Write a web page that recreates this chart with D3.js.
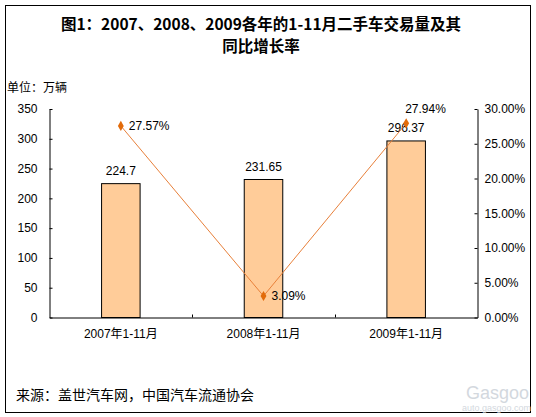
<!DOCTYPE html>
<html>
<head>
<meta charset="utf-8">
<script src="https://cdn.jsdelivr.net/npm/d3@7"></script>
<style>
  body { margin: 0; background: #fff; }
  text { font-family: "Liberation Sans", Arial, "Noto Sans CJK SC", sans-serif; fill: #000; }
  .cjk { font-family: "Noto Sans CJK SC", sans-serif; }
</style>
</head>
<body>
<svg id="chart"></svg>
<script>
// chart data
const categories = ["2007年1-11月", "2008年1-11月", "2009年1-11月"];
const volumes = [224.7, 231.65, 296.37];        // 万辆
const growth = [0.2757, 0.0309, 0.2794];        // 同比增长率
const volumeLabels = ["224.7", "231.65", "296.37"];
const growthLabels = ["27.57%", "3.09%", "27.94%"];
const leftTicks = [0, 50, 100, 150, 200, 250, 300, 350];
const rightTicks = [0, 0.05, 0.10, 0.15, 0.20, 0.25, 0.30];

const width = 536;
const height = 417;
const svg = d3.select("#chart").attr("width", width).attr("height", height);

// outer frame
svg.append("rect")
  .attr("x", 5.5).attr("y", 5.5)
  .attr("width", 525).attr("height", 407)
  .attr("fill", "#fff")
  .attr("stroke", "#000")
  .attr("stroke-width", 1);

// title
const title = svg.append("text")
  .attr("class", "cjk")
  .attr("text-anchor", "middle")
  .attr("font-weight", "bold")
  .attr("font-size", 15.5);
title.append("tspan").attr("x", 261).attr("y", 30).text("图1：2007、2008、2009各年的1-11月二手车交易量及其");
title.append("tspan").attr("x", 261).attr("y", 52).text("同比增长率");

// unit label
svg.append("text")
  .attr("class", "cjk")
  .attr("x", 7).attr("y", 92)
  .attr("font-size", 12)
  .text("单位：万辆");

// scales
const plot = { left: 49.5, right: 477.5, top: 109, bottom: 317.5 };
const x = d3.scaleBand().domain(categories).range([plot.left, plot.right]);
const barWidth = x.bandwidth() * 0.27;
const yLeft = d3.scaleLinear().domain([0, 350]).range([plot.bottom, plot.top]);
const yRight = d3.scaleLinear().domain([0, 0.30]).range([plot.bottom, plot.top]);

// bars
svg.selectAll(".bar")
  .data(volumes)
  .enter()
  .append("rect")
  .attr("class", "bar")
  .attr("x", (d, i) => x(categories[i]) + x.bandwidth() / 2 - barWidth / 2)
  .attr("y", (d) => yLeft(d))
  .attr("width", barWidth)
  .attr("height", (d) => yLeft(0) - yLeft(d))
  .attr("fill", "#FFCC99")
  .attr("stroke", "#000")
  .attr("stroke-width", 1);

// bar value labels
svg.selectAll(".barLabel")
  .data(volumes)
  .enter()
  .append("text")
  .attr("class", "barLabel")
  .attr("x", (d, i) => x(categories[i]) + x.bandwidth() / 2)
  .attr("y", (d) => yLeft(d) - 9)
  .attr("text-anchor", "middle")
  .attr("font-size", 12)
  .text((d, i) => volumeLabels[i]);

// left axis
const axisLeft = d3.axisLeft(yLeft)
  .tickValues(leftTicks)
  .tickSizeInner(-3)
  .tickSizeOuter(0)
  .tickPadding(12);
svg.append("g")
  .attr("transform", `translate(${plot.left},0)`)
  .call(axisLeft)
  .call((g) => g.selectAll("text").attr("font-size", 12).attr("font-family", null));

// right axis
const axisRight = d3.axisRight(yRight)
  .tickValues(rightTicks)
  .tickFormat(d3.format(".2%"))
  .tickSizeInner(-3)
  .tickSizeOuter(0)
  .tickPadding(7);
svg.append("g")
  .attr("transform", `translate(${plot.right},0)`)
  .call(axisRight)
  .call((g) => g.selectAll("text").attr("font-size", 12).attr("font-family", null));

// bottom axis: labels centred, ticks on category boundaries
const axisBottom = d3.axisBottom(x).tickSize(0).tickPadding(12);
svg.append("g")
  .attr("transform", `translate(0,${plot.bottom})`)
  .call(axisBottom)
  .call((g) => g.selectAll("text").attr("font-size", 12).attr("font-family", null));

svg.selectAll(".catTick")
  .data(categories.slice(1))
  .enter()
  .append("line")
  .attr("class", "catTick")
  .attr("x1", (d) => Math.round(x(d)) + 0.5)
  .attr("x2", (d) => Math.round(x(d)) + 0.5)
  .attr("y1", plot.bottom)
  .attr("y2", plot.bottom - 3)
  .attr("stroke", "#000");

// growth line
const line = d3.line()
  .x((d, i) => x(categories[i]) + x.bandwidth() / 2)
  .y((d) => yRight(d));

svg.append("path")
  .datum(growth)
  .attr("d", line)
  .attr("fill", "none")
  .attr("stroke", "#E8803A")
  .attr("stroke-width", 1);

// diamond markers
svg.selectAll(".marker")
  .data(growth)
  .enter()
  .append("path")
  .attr("class", "marker")
  .attr("d", d3.symbol().type(d3.symbolDiamond).size(30))
  .attr("transform", (d, i) => `translate(${x(categories[i]) + x.bandwidth() / 2},${yRight(d)})`)
  .attr("fill", "#E26B0A");

// growth labels (last one sits above the point)
const growthOffsets = [[8, 4], [8, 4], [-1, -10]];
svg.selectAll(".growthLabel")
  .data(growth)
  .enter()
  .append("text")
  .attr("class", "growthLabel")
  .attr("x", (d, i) => x(categories[i]) + x.bandwidth() / 2 + growthOffsets[i][0])
  .attr("y", (d, i) => yRight(d) + growthOffsets[i][1])
  .attr("font-size", 12)
  .text((d, i) => growthLabels[i]);

// source note
svg.append("text")
  .attr("class", "cjk")
  .attr("x", 16).attr("y", 400)
  .attr("font-size", 14)
  .text("来源：盖世汽车网，中国汽车流通协会");

// watermark
svg.append("text")
  .attr("x", 529).attr("y", 399)
  .attr("text-anchor", "end")
  .attr("font-family", "Liberation Serif, serif")
  .attr("font-size", 18)
  .style("fill", "#d3d8de")
  .text("Gasgoo");
svg.append("text")
  .attr("x", 531).attr("y", 411)
  .attr("text-anchor", "end")
  .attr("font-size", 9)
  .style("fill", "#d3d8de")
  .text("auto.gasgoo.com");
</script>
</body>
</html>
